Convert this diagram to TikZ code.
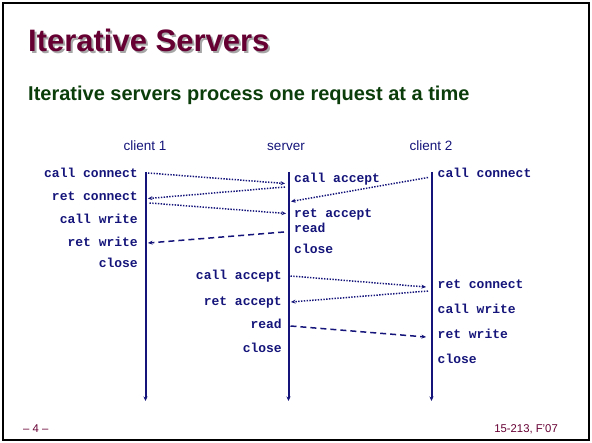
\documentclass[tikz,border=0pt]{standalone}
\usepackage{fontspec}
\setmainfont{Liberation Sans}
\setmonofont{Liberation Mono}
\usepackage{tikz}
\usetikzlibrary{calc,arrows.meta,positioning}
\definecolor{sl-title}{HTML}{660033}
\definecolor{sl-sub}{HTML}{0B3D0B}
\definecolor{sl-navy}{HTML}{14147A}

\begin{document}
\begin{tikzpicture}[x=1pt, y=-1pt, >={Stealth[length=4.5pt,width=4pt]},
    lbl/.style={font=\fontsize{13}{13}\ttfamily\bfseries, text=sl-navy, inner sep=0pt},
    hdr/.style={font=\fontsize{13.5}{14}\selectfont, text=sl-navy, inner sep=0pt, anchor=base},
    life/.style={draw=sl-navy, line width=2pt, ->},
    msg/.style={draw=sl-navy, line width=1.5pt, dash pattern=on 1.4pt off 1.4pt, ->},
    reply/.style={draw=sl-navy, line width=1.5pt, dash pattern=on 6pt off 4pt, ->}]
    \useasboundingbox (0,0) rectangle (592,443);
    \draw[line width=2pt] (3,3) rectangle (589,440);
    % title and subtitle
    \node[anchor=base west, inner sep=0pt, text=black!35, font=\fontsize{31}{34}\bfseries] (tshadow) at (30,54) {Iterative Servers};
    \node[anchor=base west, inner sep=0pt, text=sl-title, font=\fontsize{31}{34}\bfseries] (title) at (28,52) {Iterative Servers};
    \node[anchor=base west, inner sep=0pt, text=sl-sub, font=\fontsize{20}{22}\bfseries] (sub) at (28,101) {Iterative servers process one request at a time};
    % lifelines
    \node[hdr] (h1) at (145,151) {client 1};
    \node[hdr] (h2) at (286,151) {server};
    \node[hdr] (h3) at (431,151) {client 2};
    \coordinate (c1t) at (145.5,172); \coordinate (c1b) at (145.5,401);
    \coordinate (svt) at (288.5,172); \coordinate (svb) at (288.5,401);
    \coordinate (c2t) at (431.5,172); \coordinate (c2b) at (431.5,401);
    \draw[life] (c1t) -- (c1b);
    \draw[life] (svt) -- (svb);
    \draw[life] (c2t) -- (c2b);
    % client 1
    \node[lbl, anchor=base east] (c1cc) at (138,177.7) {call connect};
    \node[lbl, anchor=base east] (c1rc) at (138,201) {ret connect};
    \node[lbl, anchor=base east] (c1cw) at (138,224) {call write};
    \node[lbl, anchor=base east] (c1rw) at (138,246.7) {ret write};
    \node[lbl, anchor=base east] (c1cl) at (138,268) {close};
    % server, first client
    \node[lbl, anchor=base west] (s1ca) at (294,182.7) {call accept};
    \node[lbl, anchor=base west] (s1ra) at (294,217.3) {ret accept};
    \node[lbl, anchor=base west] (s1rd) at (294,233) {read};
    \node[lbl, anchor=base west] (s1cl) at (294,254) {close};
    % server, second client
    \node[lbl, anchor=base east] (s2ca) at (282,279.3) {call accept};
    \node[lbl, anchor=base east] (s2ra) at (282,305.7) {ret accept};
    \node[lbl, anchor=base east] (s2rd) at (282,328.3) {read};
    \node[lbl, anchor=base east] (s2cl) at (282,352.3) {close};
    % client 2
    \node[lbl, anchor=base west] (c2cc) at (437.5,177.7) {call connect};
    \node[lbl, anchor=base west] (c2rc) at (437.5,288.3) {ret connect};
    \node[lbl, anchor=base west] (c2cw) at (437.5,314) {call write};
    \node[lbl, anchor=base west] (c2rw) at (437.5,338.3) {ret write};
    \node[lbl, anchor=base west] (c2cl) at (437.5,364) {close};
    % message end points
    \coordinate (m1a) at (148,173);   \coordinate (m1b) at (285,183.5);
    \coordinate (m2a) at (285,187);   \coordinate (m2b) at (148,198.5);
    \coordinate (m3a) at (428,177.5); \coordinate (m3b) at (291,201.5);
    \coordinate (m4a) at (149.5,203); \coordinate (m4b) at (286,213.5);
    \coordinate (m5a) at (284,232);   \coordinate (m5b) at (148,243);
    \coordinate (m6a) at (290.5,276); \coordinate (m6b) at (426,287);
    \coordinate (m7a) at (428,291);   \coordinate (m7b) at (291,302);
    \coordinate (m8a) at (290.5,326); \coordinate (m8b) at (426,337);
    \draw[msg] (m1a) -- (m1b);
    \draw[msg] (m2a) -- (m2b);
    \draw[msg] (m3a) -- (m3b);
    \draw[msg] (m4a) -- (m4b);
    \draw[reply] (m5a) -- (m5b);
    \draw[msg] (m6a) -- (m6b);
    \draw[msg] (m7a) -- (m7b);
    \draw[reply] (m8a) -- (m8b);
    % footer
    \node[anchor=base west, inner sep=0pt, text=sl-title, font=\fontsize{11.3}{12}\selectfont] (pg) at (23,433) {-- 4 --};
    \node[anchor=base east, inner sep=0pt, text=sl-title, font=\fontsize{11.3}{12}\selectfont] (course) at (558,433) {15-213, F'07};
\end{tikzpicture}
\end{document}
